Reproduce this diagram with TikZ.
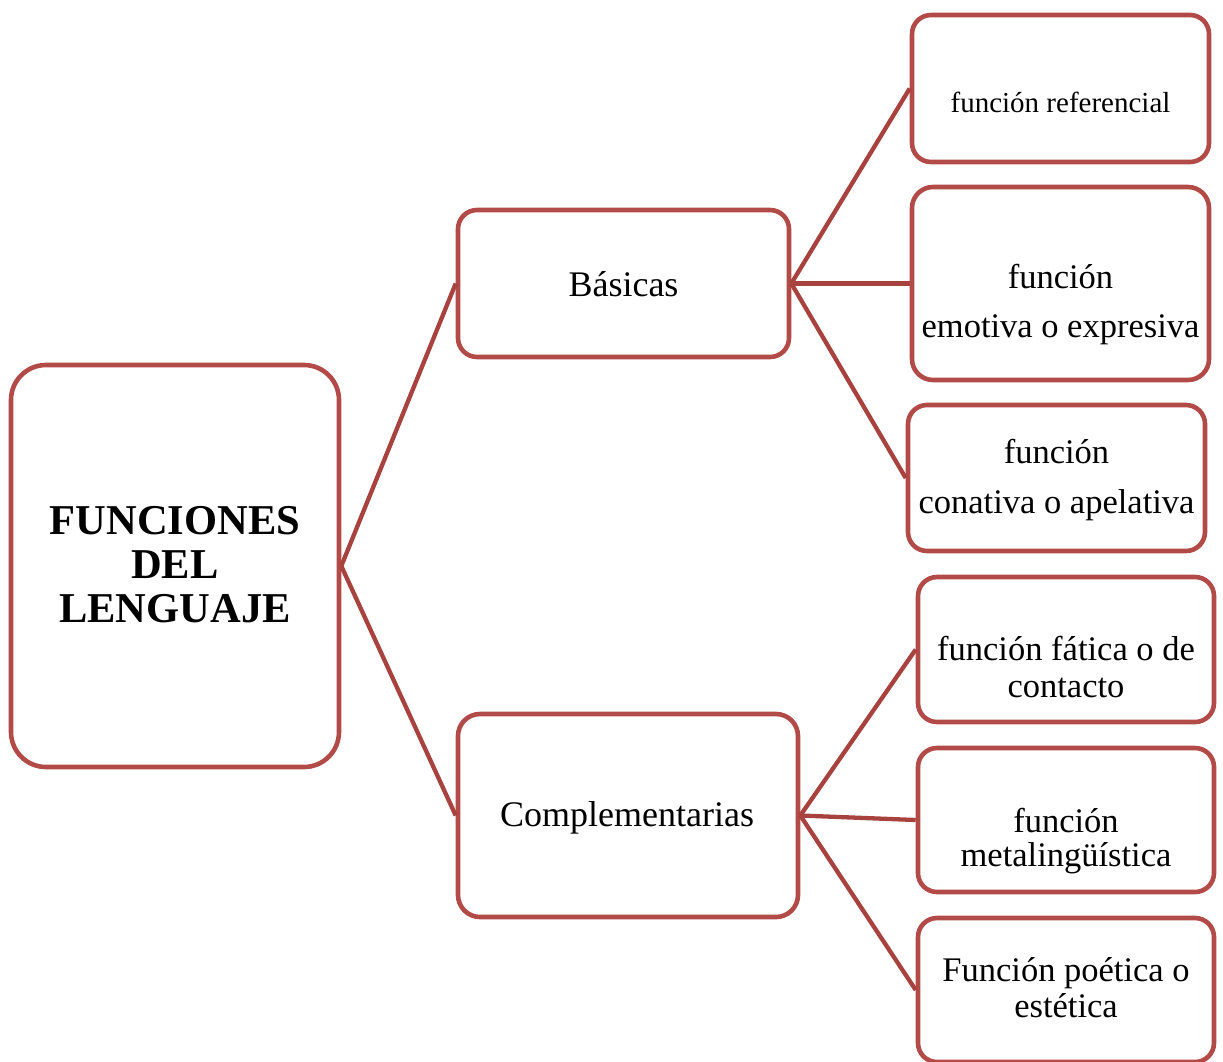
\documentclass[tikz,border=0pt]{standalone}
\usepackage{fontspec}
\setmainfont{Liberation Serif}
\definecolor{boxred}{RGB}{178,75,72}
\definecolor{linered}{RGB}{168,66,63}

\begin{document}
\begin{tikzpicture}[x=1pt,y=-1pt,
    fbox/.style={draw=boxred,line width=4.6pt,fill=white,rounded corners=19pt,inner sep=0pt},
    ftext/.style={align=center,inner sep=0pt,font=\fontsize{34.5}{37}\selectfont},
    link/.style={draw=linered,line width=4.3pt}]
    \useasboundingbox (0,0) rectangle (1223,1061);

    \node[fbox,rounded corners=35pt,minimum width=328pt,minimum height=402pt] (L) at (175,566) {};
    \node[fbox,minimum width=331pt,minimum height=147pt] (B) at (623.5,283.5) {};
    \node[fbox,rounded corners=22pt,minimum width=340pt,minimum height=203pt] (C) at (628,815.5) {};
    \node[fbox,minimum width=297pt,minimum height=147pt] (R) at (1060.5,88.5) {};
    \node[fbox,rounded corners=21pt,minimum width=297pt,minimum height=193pt] (E) at (1060.5,283.5) {};
    \node[fbox,minimum width=297pt,minimum height=146pt] (A) at (1056.5,478) {};
    \node[fbox,minimum width=296pt,minimum height=145pt] (F) at (1066,649.5) {};
    \node[fbox,minimum width=296pt,minimum height=144pt] (M) at (1066,820) {};
    \node[fbox,minimum width=296pt,minimum height=144pt] (P) at (1066,990) {};

    \node[ftext,font=\fontsize{42.5}{44}\selectfont\bfseries] (Lt) at (175,565) {FUNCIONES\\DEL\\LENGUAJE};
    \node[ftext,font=\fontsize{36}{38}\selectfont] (Bt) at (623.5,284) {Básicas};
    \node[ftext,font=\fontsize{36}{38}\selectfont] (Ct) at (627,818) {Complementarias};
    \node[ftext,font=\fontsize{29}{31}\selectfont] (Rt) at (1060.5,102) {función referencial};
    \node[ftext,font=\fontsize{34.5}{49}\selectfont] (Et) at (1060.5,304.5) {función\\emotiva o expresiva};
    \node[ftext,font=\fontsize{34.5}{50}\selectfont] (At) at (1056.5,480) {función\\conativa o apelativa};
    \node[ftext] (Ft) at (1066,667) {función fática o de\\contacto};
    \node[ftext,font=\fontsize{34.5}{34}\selectfont] (Mt) at (1066,841) {función\\metalingüística};
    \node[ftext,font=\fontsize{34.5}{36}\selectfont] (Pt) at (1066,988) {Función poética o\\estética};

    \draw[link] (L.east) -- (B.west);
    \draw[link] (L.east) -- (C.west);
    \draw[link] (B.east) -- (R.west);
    \draw[link] (B.east) -- (E.west);
    \draw[link] (B.east) -- (A.west);
    \draw[link] (C.east) -- (F.west);
    \draw[link] (C.east) -- (M.west);
    \draw[link] (C.east) -- (P.west);
\end{tikzpicture}
\end{document}
